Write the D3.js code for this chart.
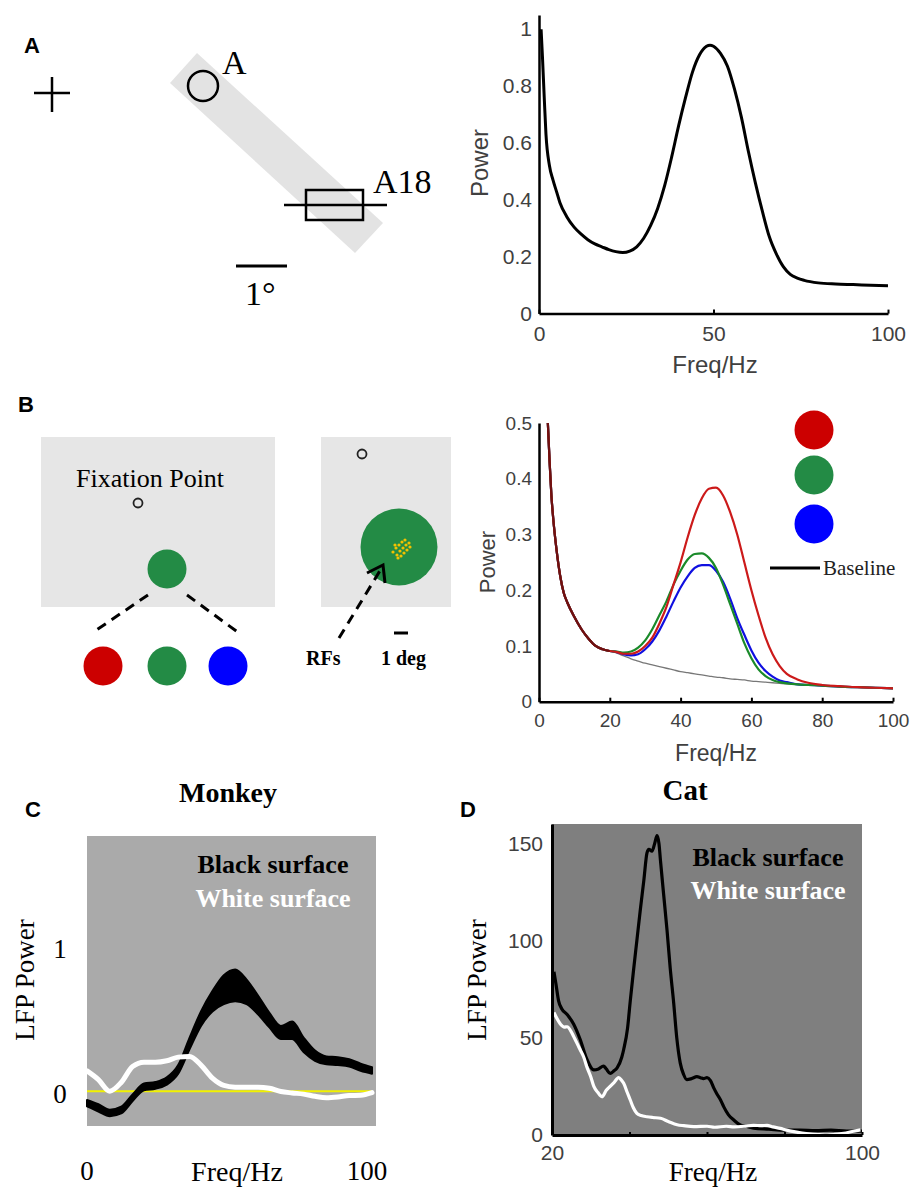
<!doctype html>
<html lang="en">
<head>
<meta charset="utf-8">
<title>Gamma power spectra</title>
<script src="https://d3js.org/d3.v7.min.js"></script>
<style>
  body { margin: 0; background: #fff; }
  svg { display: block; }
  .sans { font-family: "Liberation Sans", Arial, sans-serif; }
  .serif { font-family: "Liberation Serif", "Times New Roman", serif; }
</style>
</head>
<body>
<svg id="fig" width="922" height="1190"></svg>
<script>
// ---- data ----
// panel A: power spectrum
var aFreq  = [0.6, 1, 1.5, 2, 3, 4, 5, 6, 8, 10, 12, 14, 16, 18, 20, 22, 24, 26, 28, 30, 32, 34, 36, 38, 40, 42, 44, 46, 48, 49, 50, 52, 54, 56, 58, 60, 62, 64, 66, 68, 70, 72, 74, 76, 80, 85, 90, 95, 100];
var aPower = [1.0, 0.9, 0.76, 0.63, 0.52, 0.47, 0.43, 0.39, 0.34, 0.305, 0.28, 0.26, 0.245, 0.235, 0.225, 0.218, 0.215, 0.22, 0.235, 0.265, 0.31, 0.37, 0.45, 0.55, 0.66, 0.76, 0.85, 0.91, 0.94, 0.944, 0.94, 0.915, 0.87, 0.79, 0.69, 0.57, 0.46, 0.36, 0.27, 0.21, 0.165, 0.138, 0.125, 0.117, 0.108, 0.104, 0.102, 0.1, 0.098];
var aTicksX = [0, 50, 100];
var aTicksY = [0, 0.2, 0.4, 0.6, 0.8, 1];

// panel B: colour stimuli spectra
var bFreq     = [2.5, 3, 3.5, 4, 5, 6, 7, 8, 10, 12, 14, 16, 18, 20, 22, 24, 26, 28, 30, 32, 34, 36, 38, 40, 42, 44, 46, 48, 50, 52, 54, 56, 58, 60, 62, 64, 66, 68, 70, 73, 76, 80, 85, 90, 95, 100];
var bShared   = [0.5, 0.43, 0.37, 0.33, 0.27, 0.225, 0.195, 0.178, 0.152, 0.13, 0.113, 0.1, 0.094, 0.091];
var bRed      = bShared.concat([0.089, 0.086, 0.086, 0.09, 0.1, 0.115, 0.14, 0.17, 0.21, 0.25, 0.295, 0.335, 0.365, 0.382, 0.384, 0.37, 0.34, 0.3, 0.25, 0.2, 0.155, 0.115, 0.085, 0.064, 0.05, 0.04, 0.034, 0.03, 0.028, 0.026, 0.025, 0.024]);
var bGreen    = bShared.concat([0.09, 0.088, 0.09, 0.097, 0.11, 0.13, 0.155, 0.18, 0.21, 0.235, 0.255, 0.265, 0.266, 0.258, 0.24, 0.21, 0.175, 0.14, 0.105, 0.078, 0.058, 0.046, 0.039, 0.035, 0.033, 0.031, 0.03, 0.029, 0.027, 0.026, 0.025, 0.024]);
var bBlue     = bShared.concat([0.089, 0.085, 0.083, 0.085, 0.094, 0.108, 0.128, 0.153, 0.18, 0.205, 0.225, 0.24, 0.245, 0.245, 0.235, 0.215, 0.185, 0.15, 0.12, 0.092, 0.07, 0.055, 0.045, 0.038, 0.035, 0.031, 0.03, 0.029, 0.027, 0.026, 0.025, 0.024]);
var bBaseline = bShared.concat([0.087, 0.082, 0.077, 0.073, 0.069, 0.066, 0.063, 0.06, 0.057, 0.054, 0.052, 0.05, 0.048, 0.046, 0.044, 0.043, 0.041, 0.04, 0.039, 0.037, 0.036, 0.035, 0.034, 0.033, 0.032, 0.031, 0.03, 0.029, 0.027, 0.026, 0.025, 0.024]);
var bTicksX = [0, 20, 40, 60, 80, 100];
var bTicksY = [0, 0.1, 0.2, 0.3, 0.4, 0.5];
var bColors = ["#cc0000", "#238b45", "#0000ff"];

// panel C: monkey, black surface band and white surface line
var cFreq    = [0, 4, 8, 12, 16, 20, 24, 28, 32, 36, 40, 44, 48, 52, 56, 60, 64, 68, 72, 76, 80, 84, 88, 92, 96, 100];
var cBlackHi = [-0.06, -0.09, -0.128, -0.107, -0.022, 0.053, 0.063, 0.095, 0.18, 0.37, 0.55, 0.69, 0.8, 0.84, 0.77, 0.66, 0.54, 0.45, 0.48, 0.37, 0.28, 0.24, 0.235, 0.22, 0.19, 0.165];
var cBlackLo = [-0.105, -0.14, -0.172, -0.153, -0.068, 0.007, 0.017, 0.045, 0.12, 0.29, 0.45, 0.55, 0.6, 0.62, 0.6, 0.53, 0.44, 0.36, 0.36, 0.27, 0.21, 0.185, 0.18, 0.17, 0.14, 0.12];
var cWhite   = [0.14, 0.08, 0.0, 0.06, 0.17, 0.2, 0.2, 0.21, 0.235, 0.24, 0.18, 0.09, 0.04, 0.028, 0.027, 0.028, 0.02, -0.002, -0.012, -0.02, -0.035, -0.045, -0.04, -0.03, -0.028, -0.01];
var cTicksX = [0, 100];
var cTicksY = [0, 1];

// panel D: cat spectra
var dBlackFreq  = [20.5, 21, 21.7, 22.5, 23.9, 25.6, 27.3, 29, 30.8, 32, 33.3, 34, 35, 36, 36.8, 38, 38.5, 39.5, 40.2, 41, 41.9, 42.8, 43.7, 44.5, 45, 45.8, 46.5, 47.1, 47.6, 48, 48.8, 49.7, 50.5, 51.4, 52.2, 53.1, 54, 54.8, 56, 57.4, 58.3, 59.1, 60, 60.9, 61.8, 62.6, 63.5, 64.3, 65.5, 66.9, 68.6, 70, 72, 76, 80, 84, 88, 92, 96, 100];
var dBlackPower = [84, 78, 69, 65, 62, 57, 49, 39, 33.5, 34, 35.5, 34, 31.7, 33, 34.5, 40, 44, 55, 69, 84, 100, 116, 131, 145, 147, 146, 150, 154, 150, 141, 124, 105, 86, 68, 50, 37, 31, 28.5, 29, 30, 29.5, 29, 29.5, 28, 24, 21, 18, 14.6, 10.5, 7.7, 5.1, 4.5, 3.5, 3, 2.5, 2.5, 2.2, 2.5, 2, 2];
var dWhiteFreq  = [20.5, 21, 22.2, 23.2, 23.9, 25, 25.6, 26.5, 27.3, 28.2, 29, 30, 30.8, 31.8, 32.9, 34, 35, 36, 37.2, 38, 38.5, 39.4, 40.2, 41, 41.9, 43, 44.5, 46, 48, 50, 52.3, 54, 56.6, 60, 62, 65, 67, 70, 72, 74, 75.5, 77, 78.9, 80.5, 82.4, 84.5, 86.7, 89, 91, 93, 95.3, 97.5, 99.6];
var dWhitePower = [63, 61, 57, 55.5, 55.7, 53, 50.6, 47, 43.7, 40, 35, 30, 25, 22, 19.7, 23, 25, 27, 29.5, 28, 26.6, 22, 18, 14, 11.1, 10, 9.4, 9, 8.6, 7, 5.3, 4.8, 4.3, 4.5, 4, 4.5, 4.2, 4.6, 5, 4.8, 5, 4.2, 3.4, 2.5, 1.7, 1, 0.5, 0.2, 0, 0.3, 0.9, 1.8, 2.6];
var dTicksX = [20, 40, 60, 80, 100];
var dLabelsX = [20, 100];
var dTicksY = [0, 50, 100, 150];

var svg = d3.select("#fig");

function panelLetter(t, x, y) {
  svg.append("text").attr("class", "sans").attr("x", x).attr("y", y)
    .attr("font-size", 22).attr("font-weight", "bold").text(t);
}

function styleAxis(g, size) {
  g.select(".domain").attr("stroke", "#000").attr("stroke-width", 2.5);
  g.selectAll(".tick line").attr("stroke", "#000").attr("stroke-width", 2);
  g.selectAll(".tick text").attr("font-family", "Liberation Sans, Arial, sans-serif")
    .attr("font-size", size).attr("fill", "#404040");
}

// ---------------- Panel A ----------------
panelLetter("A", 24, 53);

svg.append("polygon").attr("points", "170,83 197,53 383,223 355,253").attr("fill", "#e3e3e3");
svg.append("line").attr("x1", 34).attr("x2", 70).attr("y1", 93).attr("y2", 93).attr("stroke", "#000").attr("stroke-width", 2.5);
svg.append("line").attr("x1", 52).attr("x2", 52).attr("y1", 77).attr("y2", 112).attr("stroke", "#000").attr("stroke-width", 2.5);
svg.append("circle").attr("cx", 203).attr("cy", 86).attr("r", 15).attr("fill", "none").attr("stroke", "#000").attr("stroke-width", 2.5);
svg.append("text").attr("class", "serif").attr("x", 222).attr("y", 74).attr("font-size", 34).text("A");
svg.append("line").attr("x1", 284).attr("x2", 387).attr("y1", 205).attr("y2", 205).attr("stroke", "#000").attr("stroke-width", 2.5);
svg.append("rect").attr("x", 306).attr("y", 190).attr("width", 57).attr("height", 30).attr("fill", "none").attr("stroke", "#000").attr("stroke-width", 2.5);
svg.append("text").attr("class", "serif").attr("x", 373).attr("y", 193).attr("font-size", 34).text("A18");
svg.append("line").attr("x1", 236).attr("x2", 287).attr("y1", 266).attr("y2", 266).attr("stroke", "#000").attr("stroke-width", 3);
svg.append("text").attr("class", "serif").attr("x", 245).attr("y", 305).attr("font-size", 34).text("1°");

var ax = d3.scaleLinear().domain([0, 100]).range([539, 888]);
var ay = d3.scaleLinear().domain([0, 1.05]).range([313.6, 15]);

var gAx = svg.append("g").attr("transform", "translate(0,313.6)")
  .call(d3.axisBottom(ax).tickValues(aTicksX).tickSizeInner(-4).tickSizeOuter(0).tickPadding(12));
styleAxis(gAx, 21);
var gAy = svg.append("g").attr("transform", "translate(539,0)")
  .call(d3.axisLeft(ay).tickValues(aTicksY).tickSize(0).tickPadding(7).tickFormat(d3.format("~g")));
styleAxis(gAy, 21);

svg.append("path").datum(aFreq.map(function(f, i) { return [f, aPower[i]]; }))
  .attr("fill", "none").attr("stroke", "#000").attr("stroke-width", 3)
  .attr("d", d3.line().x(function(d) { return ax(d[0]); }).y(function(d) { return ay(d[1]); }).curve(d3.curveMonotoneX));

svg.append("text").attr("class", "sans").attr("x", 715).attr("y", 373).attr("text-anchor", "middle")
  .attr("font-size", 24).attr("fill", "#404040").text("Freq/Hz");
svg.append("text").attr("class", "sans").attr("transform", "translate(488,163) rotate(-90)").attr("text-anchor", "middle")
  .attr("font-size", 24).attr("fill", "#404040").text("Power");

// ---------------- Panel B ----------------
panelLetter("B", 18, 412);

svg.append("rect").attr("x", 41).attr("y", 437).attr("width", 234).attr("height", 170).attr("fill", "#e6e6e6");
svg.append("text").attr("class", "serif").attr("x", 76).attr("y", 487).attr("font-size", 26).text("Fixation Point");
svg.append("circle").attr("cx", 138).attr("cy", 503).attr("r", 4.5).attr("fill", "none").attr("stroke", "#222").attr("stroke-width", 1.8);
svg.append("circle").attr("cx", 167).attr("cy", 569).attr("r", 19.5).attr("fill", bColors[1]);
svg.append("line").attr("x1", 148).attr("y1", 595).attr("x2", 92).attr("y2", 633)
  .attr("stroke", "#000").attr("stroke-width", 3).attr("stroke-dasharray", "10,7");
svg.append("line").attr("x1", 187).attr("y1", 595).attr("x2", 239).attr("y2", 633)
  .attr("stroke", "#000").attr("stroke-width", 3).attr("stroke-dasharray", "10,7");
svg.selectAll(".stim").data(bColors).join("circle").attr("class", "stim")
  .attr("cx", function(d, i) { return [103, 167, 228][i]; }).attr("cy", 666).attr("r", 19.5)
  .attr("fill", function(d) { return d; });

svg.append("rect").attr("x", 321).attr("y", 437).attr("width", 130).attr("height", 170).attr("fill", "#e6e6e6");
svg.append("circle").attr("cx", 362).attr("cy", 454).attr("r", 4.5).attr("fill", "none").attr("stroke", "#222").attr("stroke-width", 1.8);
svg.append("circle").attr("cx", 399).attr("cy", 547).attr("r", 38.5).attr("fill", bColors[1]);
var rfDots = [[393, 552], [396, 548], [399, 545], [402, 542], [405, 540], [397, 555], [400, 551], [403, 548], [406, 545], [409, 543], [395, 545], [401, 556], [404, 553], [407, 550], [410, 547], [398, 558]];
svg.selectAll(".rf").data(rfDots).join("circle").attr("class", "rf")
  .attr("cx", function(d) { return d[0]; }).attr("cy", function(d) { return d[1]; }).attr("r", 1.6).attr("fill", "#f2c200");
svg.append("line").attr("x1", 339).attr("y1", 638).attr("x2", 381).attr("y2", 569)
  .attr("stroke", "#000").attr("stroke-width", 3).attr("stroke-dasharray", "10,7");
svg.append("polyline").attr("points", "367,573 383,565 385,583").attr("fill", "none").attr("stroke", "#000").attr("stroke-width", 3);
svg.append("line").attr("x1", 394).attr("x2", 408).attr("y1", 633).attr("y2", 633).attr("stroke", "#000").attr("stroke-width", 3);
svg.append("text").attr("class", "serif").attr("x", 306).attr("y", 665).attr("font-size", 20).attr("font-weight", "bold").text("RFs");
svg.append("text").attr("class", "serif").attr("x", 381).attr("y", 665).attr("font-size", 20).attr("font-weight", "bold").text("1 deg");

var bx = d3.scaleLinear().domain([0, 100]).range([539, 893]);
var by = d3.scaleLinear().domain([0, 0.5]).range([701.7, 423]);

var gBx = svg.append("g").attr("transform", "translate(0,701.7)")
  .call(d3.axisBottom(bx).tickValues(bTicksX).tickSizeInner(-4).tickSizeOuter(0).tickPadding(12));
styleAxis(gBx, 19);
var gBy = svg.append("g").attr("transform", "translate(539,0)")
  .call(d3.axisLeft(by).tickValues(bTicksY).tickSize(0).tickPadding(7).tickFormat(d3.format("~g")));
styleAxis(gBy, 19);

var bLine = d3.line().x(function(d) { return bx(d[0]); }).y(function(d) { return by(d[1]); }).curve(d3.curveMonotoneX);
function bPts(vals) { return bFreq.map(function(f, i) { return [f, vals[i]]; }); }

svg.append("path").datum(bPts(bBaseline)).attr("fill", "none").attr("stroke", "#777").attr("stroke-width", 1.3).attr("d", bLine);
svg.append("path").datum(bPts(bBlue)).attr("fill", "none").attr("stroke", "#1010e0").attr("stroke-width", 2.2).attr("d", bLine);
svg.append("path").datum(bPts(bGreen)).attr("fill", "none").attr("stroke", "#1a8a2a").attr("stroke-width", 2.2).attr("d", bLine);
svg.append("path").datum(bPts(bRed)).attr("fill", "none").attr("stroke", "#cc1a1a").attr("stroke-width", 2.2).attr("d", bLine);
// shared low-frequency part looks dark red in the original
svg.append("path").datum(bPts(bShared)).attr("fill", "none").attr("stroke", "#6e1010").attr("stroke-width", 2.2).attr("d", bLine);

svg.selectAll(".leg").data(bColors).join("circle").attr("class", "leg")
  .attr("cx", 814).attr("cy", function(d, i) { return [430, 475, 524][i]; }).attr("r", 19.5)
  .attr("fill", function(d) { return d; });
svg.append("line").attr("x1", 770).attr("x2", 820).attr("y1", 568).attr("y2", 568).attr("stroke", "#000").attr("stroke-width", 3);
svg.append("text").attr("class", "serif").attr("x", 823).attr("y", 575).attr("font-size", 21).attr("fill", "#222").text("Baseline");

svg.append("text").attr("class", "sans").attr("x", 716).attr("y", 761).attr("text-anchor", "middle")
  .attr("font-size", 23).attr("fill", "#404040").text("Freq/Hz");
svg.append("text").attr("class", "sans").attr("transform", "translate(495,562) rotate(-90)").attr("text-anchor", "middle")
  .attr("font-size", 22).attr("fill", "#404040").text("Power");

// ---------------- Panel C ----------------
panelLetter("C", 25, 817);
svg.append("text").attr("class", "serif").attr("x", 228).attr("y", 802).attr("text-anchor", "middle")
  .attr("font-size", 28).attr("font-weight", "bold").text("Monkey");

var cx = d3.scaleLinear().domain([0, 100]).range([87, 372]);
var cy = d3.scaleLinear().domain([-0.24, 1.76]).range([1126, 836]);

svg.append("rect").attr("x", 87).attr("y", 836).attr("width", 289).attr("height", 290).attr("fill", "#aaaaaa");
svg.append("line").attr("x1", cx(0)).attr("x2", cx(100)).attr("y1", cy(0)).attr("y2", cy(0)).attr("stroke", "#f2f200").attr("stroke-width", 2);

svg.append("path").datum(cFreq.map(function(f, i) { return [f, cBlackLo[i], cBlackHi[i]]; }))
  .attr("fill", "#000").attr("stroke", "#000").attr("stroke-width", 2).attr("stroke-linejoin", "round")
  .attr("d", d3.area().x(function(d) { return cx(d[0]); }).y0(function(d) { return cy(d[1]); }).y1(function(d) { return cy(d[2]); }).curve(d3.curveMonotoneX));
svg.append("path").datum(cFreq.map(function(f, i) { return [f, cWhite[i]]; }))
  .attr("fill", "none").attr("stroke", "#fff").attr("stroke-width", 5).attr("stroke-linecap", "round")
  .attr("d", d3.line().x(function(d) { return cx(d[0]); }).y(function(d) { return cy(d[1]); }).curve(d3.curveMonotoneX));

svg.append("text").attr("class", "serif").attr("x", 273).attr("y", 873).attr("text-anchor", "middle")
  .attr("font-size", 26).attr("font-weight", "bold").attr("fill", "#000").text("Black surface");
svg.append("text").attr("class", "serif").attr("x", 273).attr("y", 907).attr("text-anchor", "middle")
  .attr("font-size", 26).attr("font-weight", "bold").attr("fill", "#fff").text("White surface");

svg.selectAll(".cyt").data(cTicksY).join("text").attr("class", "cyt serif")
  .attr("x", 60).attr("y", function(d) { return cy(d) + 12; }).attr("text-anchor", "middle")
  .attr("font-size", 27).text(function(d) { return d; });
svg.selectAll(".cxt").data(cTicksX).join("text").attr("class", "cxt serif")
  .attr("x", function(d) { return d === 0 ? cx(d) : cx(d) - 5; }).attr("y", 1180).attr("text-anchor", "middle")
  .attr("font-size", 27).text(function(d) { return d; });
svg.append("text").attr("class", "serif").attr("x", 237).attr("y", 1181).attr("text-anchor", "middle")
  .attr("font-size", 28).text("Freq/Hz");
svg.append("text").attr("class", "serif").attr("transform", "translate(34,980) rotate(-90)").attr("text-anchor", "middle")
  .attr("font-size", 27).text("LFP Power");

// ---------------- Panel D ----------------
panelLetter("D", 460, 817);
svg.append("text").attr("class", "serif").attr("x", 685).attr("y", 800).attr("text-anchor", "middle")
  .attr("font-size", 29).attr("font-weight", "bold").text("Cat");

var dx = d3.scaleLinear().domain([20, 100]).range([552, 862]);
var dy = d3.scaleLinear().domain([0, 160]).range([1135, 824]);

svg.append("rect").attr("x", 552).attr("y", 824).attr("width", 310).attr("height", 311).attr("fill", "#7f7f7f");

var dLine = d3.line().x(function(d) { return dx(d[0]); }).y(function(d) { return dy(d[1]); }).curve(d3.curveMonotoneX);
svg.append("path").datum(dBlackFreq.map(function(f, i) { return [f, dBlackPower[i]]; }))
  .attr("fill", "none").attr("stroke", "#000").attr("stroke-width", 3.2).attr("stroke-linejoin", "round").attr("d", dLine);
svg.append("path").datum(dWhiteFreq.map(function(f, i) { return [f, dWhitePower[i]]; }))
  .attr("fill", "none").attr("stroke", "#fff").attr("stroke-width", 3.2).attr("stroke-linejoin", "round").attr("d", dLine);

var gDx = svg.append("g").attr("transform", "translate(0,1135)")
  .call(d3.axisBottom(dx).tickValues(dTicksX).tickSizeInner(-3).tickSizeOuter(0).tickPadding(10)
    .tickFormat(function(d) { return dLabelsX.indexOf(d) >= 0 ? d : ""; }));
styleAxis(gDx, 21);
gDx.select(".domain").attr("stroke-width", 3);
var gDy = svg.append("g").attr("transform", "translate(552,0)")
  .call(d3.axisLeft(dy).tickValues(dTicksY).tickSize(0).tickPadding(9));
styleAxis(gDy, 21);
gDy.select(".domain").attr("stroke-width", 3);

svg.append("text").attr("class", "serif").attr("x", 768).attr("y", 866).attr("text-anchor", "middle")
  .attr("font-size", 26).attr("font-weight", "bold").attr("fill", "#000").text("Black surface");
svg.append("text").attr("class", "serif").attr("x", 768).attr("y", 899).attr("text-anchor", "middle")
  .attr("font-size", 26).attr("font-weight", "bold").attr("fill", "#fff").text("White surface");
svg.append("text").attr("class", "serif").attr("x", 713).attr("y", 1181).attr("text-anchor", "middle")
  .attr("font-size", 27).text("Freq/Hz");
svg.append("text").attr("class", "serif").attr("transform", "translate(486,980) rotate(-90)").attr("text-anchor", "middle")
  .attr("font-size", 27).text("LFP Power");
</script>
</body>
</html>
